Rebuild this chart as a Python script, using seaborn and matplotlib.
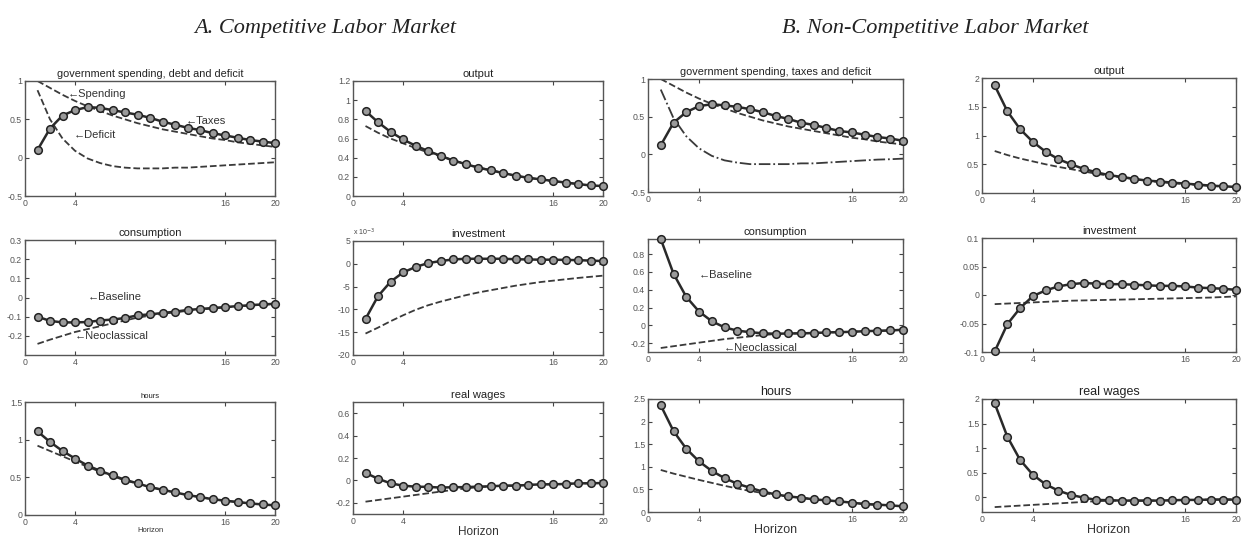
import numpy as np
import pandas as pd
import matplotlib
matplotlib.use("Agg")
import matplotlib.pyplot as plt
import seaborn as sns

sns.set_theme(style="ticks")
plt.rcParams['font.family'] = ['Liberation Sans', 'DejaVu Sans']

horizon = list(range(1, 21))

# ---- A. Competitive labor market ----
a_gov_taxes = [0.10, 0.38, 0.55, 0.62, 0.66, 0.65, 0.62, 0.59, 0.56, 0.52,
               0.47, 0.43, 0.39, 0.36, 0.32, 0.29, 0.26, 0.23, 0.21, 0.19]
a_gov_spending = [1.00, 0.91, 0.82, 0.74, 0.67, 0.61, 0.55, 0.50, 0.45, 0.41,
                  0.37, 0.34, 0.31, 0.28, 0.25, 0.23, 0.20, 0.18, 0.16, 0.14]
a_gov_deficit = [0.88, 0.50, 0.25, 0.09, -0.01, -0.07, -0.11, -0.13, -0.14, -0.14,
                 -0.14, -0.13, -0.13, -0.12, -0.11, -0.10, -0.09, -0.08, -0.07, -0.06]

a_output_base = [0.887, 0.77, 0.67, 0.59, 0.525, 0.47, 0.42, 0.37, 0.334, 0.296,
                 0.268, 0.24, 0.212, 0.19, 0.174, 0.157, 0.14, 0.125, 0.11, 0.104]
a_output_neo = [0.73, 0.66, 0.60, 0.55, 0.50, 0.455, 0.415, 0.375, 0.335, 0.30,
                0.27, 0.242, 0.212, 0.19, 0.172, 0.155, 0.14, 0.125, 0.11, 0.10]

a_cons_base = [-0.10, -0.122, -0.13, -0.13, -0.128, -0.12, -0.115, -0.107, -0.093, -0.088,
               -0.081, -0.074, -0.065, -0.06, -0.055, -0.05, -0.045, -0.04, -0.036, -0.033]
a_cons_neo = [-0.242, -0.22, -0.20, -0.18, -0.165, -0.15, -0.135, -0.12, -0.105, -0.095,
              -0.085, -0.077, -0.07, -0.063, -0.057, -0.052, -0.047, -0.042, -0.038, -0.034]

# investment, in units of 10^-3
a_inv_base = [-12.1, -7.1, -3.95, -1.9, -0.7, 0.15, 0.6, 0.95, 1.1, 1.1,
              1.1, 1.1, 1.0, 0.95, 0.9, 0.9, 0.85, 0.8, 0.7, 0.6]
a_inv_neo = [-15.3, -14.0, -12.6, -11.3, -10.1, -9.1, -8.3, -7.6, -6.9, -6.3,
             -5.8, -5.3, -4.8, -4.4, -4.0, -3.7, -3.4, -3.1, -2.85, -2.6]

a_hours_base = [1.11, 0.97, 0.85, 0.75, 0.657, 0.587, 0.525, 0.468, 0.42, 0.37,
                0.335, 0.30, 0.265, 0.238, 0.21, 0.19, 0.172, 0.154, 0.14, 0.128]
a_hours_neo = [0.92, 0.85, 0.78, 0.71, 0.64, 0.575, 0.515, 0.46, 0.415, 0.37,
               0.335, 0.30, 0.265, 0.238, 0.21, 0.19, 0.172, 0.154, 0.14, 0.128]

a_wage_base = [0.067, 0.015, -0.026, -0.047, -0.056, -0.058, -0.064, -0.061, -0.06, -0.056,
               -0.053, -0.047, -0.047, -0.041, -0.035, -0.035, -0.032, -0.026, -0.026, -0.023]
a_wage_neo = [-0.19, -0.175, -0.16, -0.145, -0.13, -0.115, -0.10, -0.085, -0.072, -0.06,
              -0.053, -0.047, -0.045, -0.041, -0.036, -0.034, -0.031, -0.027, -0.025, -0.023]

# ---- B. Non-competitive labor market ----
b_gov_taxes = [0.12, 0.42, 0.56, 0.64, 0.665, 0.65, 0.63, 0.60, 0.56, 0.51,
               0.47, 0.42, 0.39, 0.35, 0.31, 0.29, 0.26, 0.23, 0.21, 0.18]
b_gov_spending = [1.00, 0.91, 0.82, 0.74, 0.67, 0.61, 0.55, 0.50, 0.45, 0.41,
                  0.37, 0.34, 0.31, 0.28, 0.25, 0.22, 0.20, 0.17, 0.15, 0.13]
b_gov_deficit = [0.86, 0.48, 0.24, 0.08, -0.02, -0.08, -0.11, -0.13, -0.13, -0.13,
                 -0.13, -0.12, -0.12, -0.11, -0.10, -0.09, -0.08, -0.07, -0.065, -0.057]

b_output_base = [1.87, 1.42, 1.11, 0.89, 0.72, 0.59, 0.50, 0.42, 0.36, 0.31,
                 0.28, 0.245, 0.215, 0.20, 0.18, 0.163, 0.146, 0.128, 0.117, 0.105]
b_output_neo = [0.73, 0.66, 0.60, 0.55, 0.50, 0.455, 0.415, 0.375, 0.335, 0.30,
                0.27, 0.242, 0.212, 0.19, 0.172, 0.155, 0.14, 0.125, 0.11, 0.10]

b_cons_base = [0.97, 0.58, 0.32, 0.155, 0.046, -0.023, -0.06, -0.077, -0.09, -0.095,
               -0.092, -0.09, -0.087, -0.08, -0.077, -0.073, -0.066, -0.062, -0.058, -0.05]
b_cons_neo = [-0.255, -0.235, -0.215, -0.195, -0.175, -0.155, -0.14, -0.125, -0.11, -0.098,
              -0.092, -0.09, -0.087, -0.08, -0.077, -0.073, -0.066, -0.062, -0.058, -0.05]

b_inv_base = [-0.099, -0.051, -0.023, -0.002, 0.008, 0.015, 0.019, 0.021, 0.020, 0.019,
              0.019, 0.018, 0.017, 0.016, 0.016, 0.015, 0.013, 0.012, 0.011, 0.009]
b_inv_neo = [-0.016, -0.015, -0.014, -0.013, -0.012, -0.011, -0.010, -0.0095, -0.009, -0.0085,
             -0.008, -0.0075, -0.007, -0.0065, -0.006, -0.0055, -0.005, -0.0045, -0.0035, -0.0025]

b_hours_base = [2.36, 1.79, 1.40, 1.12, 0.91, 0.75, 0.625, 0.537, 0.45, 0.39,
                0.345, 0.316, 0.28, 0.257, 0.235, 0.206, 0.176, 0.162, 0.147, 0.125]
b_hours_neo = [0.93, 0.85, 0.78, 0.71, 0.645, 0.58, 0.52, 0.465, 0.42, 0.38,
               0.345, 0.316, 0.28, 0.257, 0.235, 0.206, 0.176, 0.162, 0.147, 0.125]

b_wage_base = [1.91, 1.23, 0.76, 0.46, 0.264, 0.136, 0.047, -0.007, -0.054, -0.06,
               -0.068, -0.068, -0.068, -0.068, -0.061, -0.054, -0.054, -0.047, -0.047, -0.047]
b_wage_neo = [-0.20, -0.185, -0.17, -0.155, -0.14, -0.125, -0.11, -0.095, -0.08, -0.07,
              -0.068, -0.068, -0.068, -0.068, -0.061, -0.054, -0.054, -0.047, -0.047, -0.047]

xticks = [0, 4, 16, 20]

W, H = 1250, 537
fig = plt.figure(figsize=(W / 100, H / 100), dpi=100)


def make_ax(l, t, r, b):
    return fig.add_axes([l / W, 1 - b / H, (r - l) / W, (b - t) / H])


LINE = '#2a2a2a'
DASH = '#3a3a3a'


def base(ax, y):
    sns.lineplot(x=horizon, y=y, ax=ax, color=LINE, lw=1.8, marker='o', markersize=5.5,
                 markerfacecolor='#9a9a9a', markeredgecolor='#222222', markeredgewidth=1.1,
                 zorder=3, clip_on=False)


def neo(ax, y, ls='--'):
    sns.lineplot(x=horizon, y=y, ax=ax, color=DASH, lw=1.3, linestyle=ls, zorder=2)


def style(ax, ylim, yticks, title, tsize=7.5, xlabel=None, xlsize=9):
    ax.set_xlim(0, 20)
    ax.set_ylim(*ylim)
    ax.set_xticks(xticks)
    ax.set_yticks(yticks)
    ax.set_yticklabels(['%g' % v for v in yticks])
    ax.tick_params(direction='in', top=True, right=True, length=3, width=0.8,
                   labelsize=6.3, colors='#444444', labelcolor='#555555', pad=2)
    for s in ax.spines.values():
        s.set_color('#555555')
        s.set_linewidth(1.0)
    ax.set_title(title, fontsize=tsize, color='#222222', pad=3)
    ax.set_ylabel('')
    if xlabel:
        ax.set_xlabel(xlabel, fontsize=xlsize, color='#333333', labelpad=0)
    else:
        ax.set_xlabel('')


def note(ax, x, y, s):
    ax.text(x, y, '\u2190' + s, fontsize=8, color='#333333', va='center', ha='left',
            family=['Liberation Sans', 'DejaVu Sans'])


# Row 1
ax = make_ax(25, 81, 275, 196)
neo(ax, a_gov_spending)
neo(ax, a_gov_deficit)
base(ax, a_gov_taxes)
style(ax, (-0.5, 1), [-0.5, 0, 0.5, 1], 'government spending, debt and deficit', tsize=7.8)
note(ax, 3.4, 0.83, 'Spending')
note(ax, 12.9, 0.48, 'Taxes')
note(ax, 3.9, 0.29, 'Deficit')

ax = make_ax(353, 81, 603, 196)
neo(ax, a_output_neo)
base(ax, a_output_base)
style(ax, (0, 1.2), [0, 0.2, 0.4, 0.6, 0.8, 1, 1.2], 'output', tsize=8)

ax = make_ax(648, 79, 903, 192)
neo(ax, b_gov_spending)
neo(ax, b_gov_deficit, ls='-.')
base(ax, b_gov_taxes)
style(ax, (-0.5, 1), [-0.5, 0, 0.5, 1], 'government spending, taxes and deficit', tsize=7.8)

ax = make_ax(982, 78, 1236, 193)
neo(ax, b_output_neo)
base(ax, b_output_base)
style(ax, (0, 2), [0, 0.5, 1, 1.5, 2], 'output', tsize=8)

# Row 2
ax = make_ax(25, 240, 275, 355)
neo(ax, a_cons_neo)
base(ax, a_cons_base)
style(ax, (-0.3, 0.3), [-0.2, -0.1, 0, 0.1, 0.2, 0.3], 'consumption', tsize=8)
note(ax, 5.0, 0.0, 'Baseline')
note(ax, 4.0, -0.2, 'Neoclassical')

ax = make_ax(353, 241, 603, 355)
neo(ax, a_inv_neo)
base(ax, a_inv_base)
style(ax, (-20, 5), [-20, -15, -10, -5, 0, 5], 'investment', tsize=8)
ax.text(0.0, 1.03, 'x 10$^{-3}$', transform=ax.transAxes, fontsize=5, color='#444444',
        ha='left', va='bottom')

ax = make_ax(648, 239, 903, 352)
neo(ax, b_cons_neo)
base(ax, b_cons_base)
style(ax, (-0.3, 0.97), [-0.2, 0, 0.2, 0.4, 0.6, 0.8], 'consumption', tsize=8)
note(ax, 3.95, 0.565, 'Baseline')
note(ax, 5.95, -0.26, 'Neoclassical')

ax = make_ax(982, 238, 1236, 352)
neo(ax, b_inv_neo)
base(ax, b_inv_base)
style(ax, (-0.1, 0.1), [-0.1, -0.05, 0, 0.05, 0.1], 'investment', tsize=8)

# Row 3
ax = make_ax(25, 402, 275, 515)
neo(ax, a_hours_neo)
base(ax, a_hours_base)
style(ax, (0, 1.5), [0, 0.5, 1, 1.5], 'hours', tsize=5.5, xlabel='Horizon', xlsize=5.5)

ax = make_ax(353, 402, 603, 514)
neo(ax, a_wage_neo)
base(ax, a_wage_base)
style(ax, (-0.3, 0.7), [-0.2, 0, 0.2, 0.4, 0.6], 'real wages', tsize=8, xlabel='Horizon', xlsize=8.5)

ax = make_ax(648, 399, 903, 512)
neo(ax, b_hours_neo)
base(ax, b_hours_base)
style(ax, (0, 2.5), [0, 0.5, 1, 1.5, 2, 2.5], 'hours', tsize=9, xlabel='Horizon', xlsize=9)

ax = make_ax(982, 399, 1236, 512)
neo(ax, b_wage_neo)
base(ax, b_wage_base)
style(ax, (-0.3, 2), [0, 0.5, 1, 1.5, 2], 'real wages', tsize=9, xlabel='Horizon', xlsize=9)

# Section headings
fig.text(325 / W, 1 - 29 / H, 'A. Competitive Labor Market', fontsize=16, style='italic',
         family=['Liberation Serif', 'DejaVu Serif'], ha='center', va='center', color='#222222')
fig.text(935 / W, 1 - 29 / H, 'B. Non-Competitive Labor Market', fontsize=16, style='italic',
         family=['Liberation Serif', 'DejaVu Serif'], ha='center', va='center', color='#222222')

fig.savefig('out.png', dpi=100, facecolor='white')
